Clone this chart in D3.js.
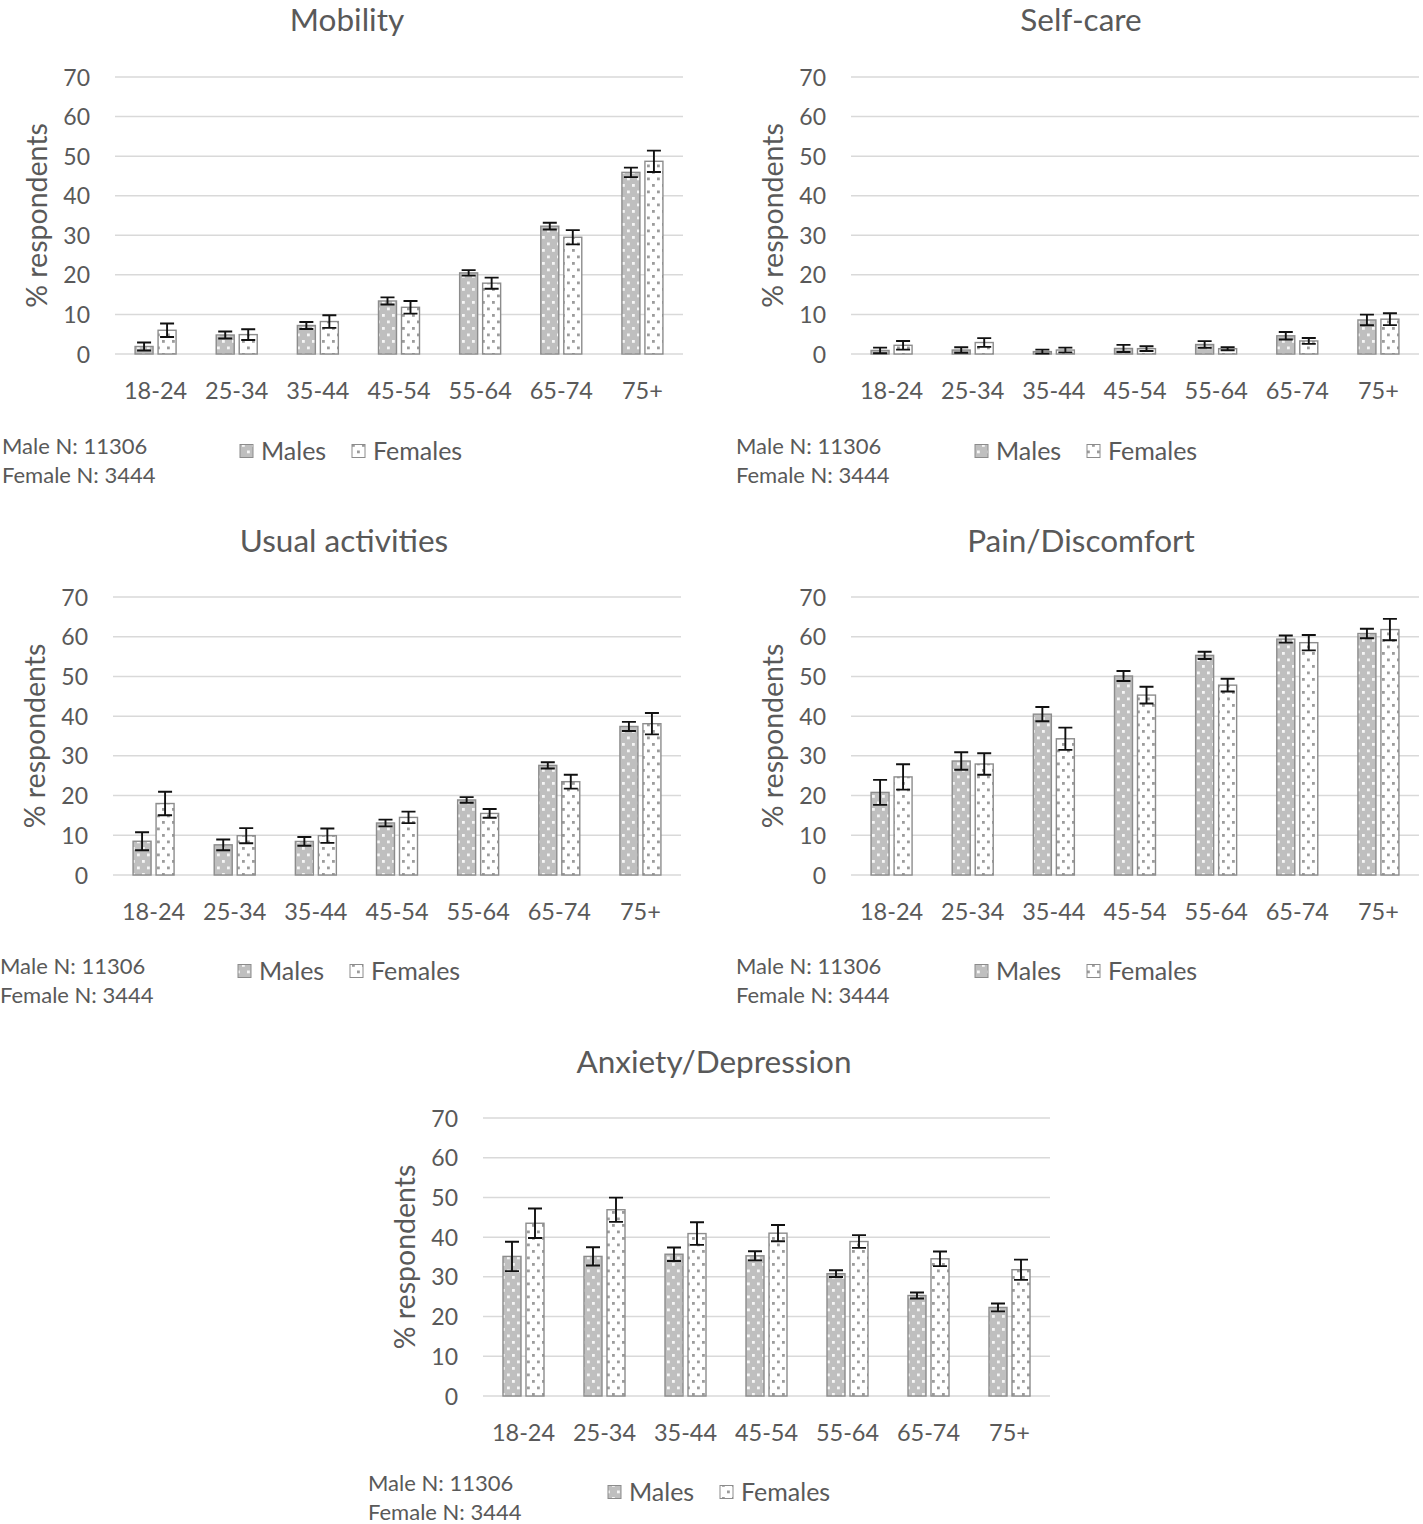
<!DOCTYPE html>
<html>
<head>
<meta charset="utf-8">
<script src="https://cdn.jsdelivr.net/npm/d3@7"></script>
<style>
  html, body { margin: 0; padding: 0; background: #fff; }
  svg { display: block; }
  text { font-family: Lato, "Open Sans", sans-serif; fill: #595959; }
</style>
</head>
<body>
<svg id="chart" width="1423" height="1524"></svg>
<script>
// ---------- Data ----------
const ageGroups = ["18-24", "25-34", "35-44", "45-54", "55-64", "65-74", "75+"];
const yTicks = [0, 10, 20, 30, 40, 50, 60, 70];
const seriesNames = ["Males", "Females"];
const noteLines = ["Male N: 11306", "Female N: 3444"];

const mobilityMales      = [1.9, 4.8, 7.2, 13.4, 20.5, 32.3, 45.9];
const mobilityMalesErr   = [1.0, 0.9, 0.9, 0.9, 0.7, 0.85, 1.2];
const mobilityFemales    = [6.0, 4.9, 8.2, 11.8, 17.9, 29.5, 48.7];
const mobilityFemalesErr = [1.7, 1.35, 1.6, 1.6, 1.4, 1.8, 2.7];

const selfcareMales      = [0.9, 1.0, 0.6, 1.4, 2.4, 4.6, 8.6];
const selfcareMalesErr   = [0.7, 0.7, 0.5, 0.9, 0.85, 0.95, 1.35];
const selfcareFemales    = [2.2, 2.9, 1.0, 1.35, 1.35, 3.3, 8.8];
const selfcareFemalesErr = [1.1, 1.1, 0.6, 0.6, 0.4, 0.75, 1.5];

const usualMales      = [8.5, 7.6, 8.45, 13.1, 18.9, 27.6, 37.4];
const usualMalesErr   = [2.25, 1.35, 1.1, 0.85, 0.7, 0.8, 1.15];
const usualFemales    = [18.0, 9.9, 9.9, 14.5, 15.5, 23.5, 38.1];
const usualFemalesErr = [2.95, 1.9, 1.8, 1.45, 1.1, 1.75, 2.7];

const painMales      = [20.8, 28.7, 40.5, 50.1, 55.3, 59.4, 60.8];
const painMalesErr   = [3.15, 2.2, 1.8, 1.25, 0.9, 0.9, 1.2];
const painFemales    = [24.7, 27.95, 34.3, 45.3, 47.8, 58.5, 61.8];
const painFemalesErr = [3.2, 2.7, 2.8, 2.1, 1.6, 1.95, 2.7];

const anxietyMales      = [35.15, 35.15, 35.7, 35.3, 30.8, 25.3, 22.3];
const anxietyMalesErr   = [3.7, 2.3, 1.7, 1.15, 0.85, 0.75, 1.0];
const anxietyFemales    = [43.5, 46.9, 40.9, 41.0, 38.9, 34.55, 31.8];
const anxietyFemalesErr = [3.7, 3.05, 2.85, 2.05, 1.6, 1.85, 2.55];

// ---------- Layout ----------
const panels = [
  { title: "Mobility", males: mobilityMales, mErr: mobilityMalesErr, females: mobilityFemales, fErr: mobilityFemalesErr,
    x0: 115, x1: 683, yZero: 354, yTop: 77, titleX: 347, titleY: 20, noteX: 2, noteY: 446, legX: 240, legY: 451 },
  { title: "Self-care", males: selfcareMales, mErr: selfcareMalesErr, females: selfcareFemales, fErr: selfcareFemalesErr,
    x0: 851, x1: 1419, yZero: 354, yTop: 77, titleX: 1081, titleY: 20, noteX: 736, noteY: 446, legX: 975, legY: 451 },
  { title: "Usual activities", males: usualMales, mErr: usualMalesErr, females: usualFemales, fErr: usualFemalesErr,
    x0: 113, x1: 681, yZero: 875, yTop: 597, titleX: 344, titleY: 541, noteX: 0, noteY: 966, legX: 238, legY: 971 },
  { title: "Pain/Discomfort", males: painMales, mErr: painMalesErr, females: painFemales, fErr: painFemalesErr,
    x0: 851, x1: 1419, yZero: 875, yTop: 597, titleX: 1081, titleY: 541, noteX: 736, noteY: 966, legX: 975, legY: 971 },
  { title: "Anxiety/Depression", males: anxietyMales, mErr: anxietyMalesErr, features: null, females: anxietyFemales, fErr: anxietyFemalesErr,
    x0: 483, x1: 1050, yZero: 1396, yTop: 1118, titleX: 714, titleY: 1062, noteX: 368, noteY: 1483, legX: 608, legY: 1492 }
];

const svg = d3.select("#chart");
const defs = svg.append("defs");

// Dotted patterns
const pm = defs.append("pattern").attr("id", "patMale").attr("patternUnits", "userSpaceOnUse")
  .attr("width", 10).attr("height", 13);
pm.append("rect").attr("width", 10).attr("height", 13).attr("fill", "#bfbfbf");
pm.append("rect").attr("x", 2).attr("y", 2).attr("width", 2.8).attr("height", 2.8).attr("fill", "#f6f6f6");
pm.append("rect").attr("x", 7).attr("y", 8.5).attr("width", 2.8).attr("height", 2.8).attr("fill", "#f6f6f6");

const pf = defs.append("pattern").attr("id", "patFemale").attr("patternUnits", "userSpaceOnUse")
  .attr("width", 10).attr("height", 13);
pf.append("rect").attr("width", 10).attr("height", 13).attr("fill", "#ffffff");
pf.append("rect").attr("x", 2).attr("y", 2).attr("width", 2.8).attr("height", 2.8).attr("fill", "#9c9c9c");
pf.append("rect").attr("x", 7).attr("y", 8.5).attr("width", 2.8).attr("height", 2.8).attr("fill", "#9c9c9c");

const barW = 18, gap = 5, capHalf = 7;

panels.forEach(p => {
  const g = svg.append("g");
  const x = d3.scaleBand().domain(ageGroups).range([p.x0, p.x1]).paddingInner(0).paddingOuter(0);
  const y = d3.scaleLinear().domain([0, 70]).range([p.yZero, p.yTop]);

  // Gridlines
  g.append("g").selectAll("line").data(yTicks).join("line")
    .attr("x1", p.x0).attr("x2", p.x1)
    .attr("y1", d => y(d)).attr("y2", d => y(d))
    .attr("stroke", "#d9d9d9").attr("stroke-width", 1.5);

  // Y axis labels
  const yAxis = d3.axisLeft(y).tickValues(yTicks).tickSize(0).tickPadding(25);
  const ya = g.append("g").attr("transform", `translate(${p.x0},0)`).call(yAxis);
  ya.select(".domain").remove();
  ya.selectAll("text").style("font-size", "23px").attr("fill", "#595959").attr("dy", "0.35em");

  // X axis labels
  const xAxis = d3.axisBottom(x).tickSize(0).tickPadding(28);
  const xa = g.append("g").attr("transform", `translate(0,${p.yZero})`).call(xAxis);
  xa.select(".domain").remove();
  xa.selectAll("text").style("font-size", "23.5px").attr("fill", "#595959");

  // Bars
  const cx = d => x(d) + x.bandwidth() / 2;
  const data = ageGroups.map((a, i) => ({ a, m: p.males[i], me: p.mErr[i], f: p.females[i], fe: p.fErr[i] }));
  g.append("g").selectAll("rect.m").data(data).join("rect")
    .attr("x", d => cx(d.a) - gap / 2 - barW)
    .attr("y", d => y(d.m)).attr("width", barW).attr("height", d => y(0) - y(d.m))
    .attr("fill", "url(#patMale)").attr("stroke", "#8c8c8c").attr("stroke-width", 1.4);
  g.append("g").selectAll("rect.f").data(data).join("rect")
    .attr("x", d => cx(d.a) + gap / 2)
    .attr("y", d => y(d.f)).attr("width", barW).attr("height", d => y(0) - y(d.f))
    .attr("fill", "url(#patFemale)").attr("stroke", "#8c8c8c").attr("stroke-width", 1.4);

  // Error bars
  const errs = [];
  data.forEach(d => {
    errs.push({ x: cx(d.a) - gap / 2 - barW / 2, v: d.m, e: d.me });
    errs.push({ x: cx(d.a) + gap / 2 + barW / 2, v: d.f, e: d.fe });
  });
  const eg = g.append("g").attr("stroke", "#111").attr("stroke-width", 1.9).attr("fill", "none");
  eg.selectAll("path").data(errs).join("path")
    .attr("d", d => {
      const t = y(d.v + d.e), b = y(Math.max(0, d.v - d.e));
      return `M${d.x},${t}V${b}M${d.x - capHalf},${t}H${d.x + capHalf}M${d.x - capHalf},${b}H${d.x + capHalf}`;
    });

  // Title
  g.append("text").attr("x", p.titleX).attr("y", p.titleY).attr("dy", "0.35em")
    .attr("text-anchor", "middle").style("font-size", "31.5px").text(p.title);

  // Y axis title
  const yMid = (p.yZero + p.yTop) / 2;
  g.append("text").attr("transform", `translate(${p.x0 - 78},${yMid}) rotate(-90)`)
    .attr("text-anchor", "middle").attr("dy", "0.35em").style("font-size", "28.5px").text("% respondents");

  // Note
  g.append("g").selectAll("text").data(noteLines).join("text")
    .attr("x", p.noteX).attr("y", (d, i) => p.noteY + i * 29).attr("dy", "0.35em")
    .style("font-size", "22px").text(d => d);

  // Legend
  const legOffsets = [0, 112];
  const lg = g.append("g");
  seriesNames.forEach((s, i) => {
    const lx = p.legX + legOffsets[i];
    lg.append("rect").attr("x", lx).attr("y", p.legY - 6.5).attr("width", 13).attr("height", 13)
      .attr("fill", i === 0 ? "url(#patMale)" : "url(#patFemale)").attr("stroke", "#8c8c8c").attr("stroke-width", 1);
    lg.append("text").attr("x", lx + 21).attr("y", p.legY).attr("dy", "0.35em")
      .style("font-size", "25px").text(s);
  });
});
</script>
</body>
</html>
